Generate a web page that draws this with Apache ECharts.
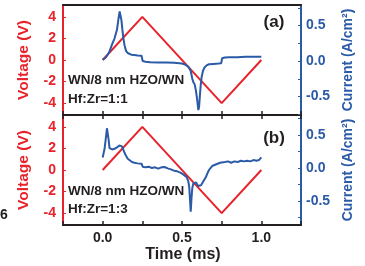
<!DOCTYPE html>
<html>
<head>
<meta charset="utf-8">
<script src="https://cdn.jsdelivr.net/npm/echarts@6/dist/echarts.min.js"></script>
<style>
html,body{margin:0;padding:0;background:#fff}
#chart{width:365px;height:266px}
</style>
</head>
<body>
<div id="chart"></div>
<script>
// triangle voltage sweep (same in both panels)
var voltTime = [0, 0.25, 0.75, 1.0];
var voltValue = [0, 4, -4, 0];

// panel (a) current, Hf:Zr=1:1
var timeA = [0, 0.02, 0.04, 0.06, 0.075, 0.09, 0.1, 0.107, 0.112, 0.118, 0.124, 0.13, 0.138, 0.148, 0.16, 0.18, 0.2, 0.22, 0.245, 0.252, 0.27, 0.3, 0.35, 0.4, 0.45, 0.5, 0.52, 0.54, 0.555, 0.565, 0.572, 0.58, 0.588, 0.596, 0.603, 0.608, 0.613, 0.618, 0.624, 0.632, 0.642, 0.655, 0.67, 0.7, 0.73, 0.747, 0.753, 0.77, 0.8, 0.85, 0.9, 0.95, 1.0];
var currentA = [0.02, 0.05, 0.12, 0.24, 0.32, 0.44, 0.6, 0.7, 0.68, 0.58, 0.45, 0.33, 0.22, 0.14, 0.11, 0.09, 0.085, 0.08, 0.075, 0.0, -0.01, -0.015, -0.02, -0.02, -0.025, -0.035, -0.05, -0.08, -0.14, -0.25, -0.3, -0.33, -0.42, -0.55, -0.69, -0.64, -0.48, -0.34, -0.22, -0.14, -0.09, -0.06, -0.045, -0.04, -0.035, -0.03, 0.04, 0.05, 0.055, 0.055, 0.06, 0.06, 0.06];

// panel (b) current, Hf:Zr=1:3
var timeB = [0, 0.012, 0.02, 0.027, 0.033, 0.038, 0.043, 0.05, 0.06, 0.075, 0.09, 0.105, 0.113, 0.12, 0.128, 0.138, 0.148, 0.158, 0.17, 0.185, 0.2, 0.22, 0.245, 0.252, 0.27, 0.29, 0.31, 0.33, 0.35, 0.37, 0.39, 0.41, 0.43, 0.45, 0.47, 0.49, 0.51, 0.53, 0.54, 0.546, 0.55, 0.555, 0.56, 0.565, 0.572, 0.58, 0.59, 0.6, 0.61, 0.62, 0.63, 0.64, 0.65, 0.66, 0.67, 0.68, 0.69, 0.7, 0.72, 0.74, 0.752, 0.77, 0.79, 0.81, 0.83, 0.85, 0.87, 0.89, 0.91, 0.93, 0.95, 0.97, 0.985, 1.0];
var currentB = [0.16, 0.29, 0.45, 0.6, 0.57, 0.42, 0.3, 0.27, 0.28, 0.29, 0.31, 0.34, 0.35, 0.33, 0.29, 0.23, 0.18, 0.14, 0.11, 0.09, 0.08, 0.07, 0.065, 0.02, 0.01, 0.02, 0.0, 0.01, -0.01, 0.01, 0.015, -0.005, -0.02, -0.04, -0.05, -0.07, -0.1, -0.14, -0.2, -0.3, -0.46, -0.66, -0.45, -0.3, -0.23, -0.21, -0.22, -0.27, -0.24, -0.26, -0.22, -0.19, -0.14, -0.08, -0.03, 0.0, 0.03, 0.045, 0.06, 0.08, 0.1, 0.09, 0.1, 0.08, 0.1, 0.09, 0.11, 0.1, 0.11, 0.1, 0.12, 0.11, 0.12, 0.16];

var timeLabels = [0, 0.5, 1.0];
var voltLabels = [-4, -2, 0, 2, 4];
var currLabels = [-0.5, 0, 0.5];
var currTicks = [-0.75, -0.5, -0.25, 0, 0.25, 0.5, 0.75];

var RED = '#e8232b', BLUE = '#2b5aa7', INK = '#231f20';
var FONT = '"Liberation Sans", Arial, sans-serif';

function pairs(xs, ys) {
  return xs.map(function (x, i) { return [x, ys[i]]; });
}

function xAx(grid, pos, showLabel, ticks) {
  return {
    type: 'value', gridIndex: grid, position: pos,
    min: -0.25, max: 1.25, interval: 0.25,
    axisLine: { show: true, onZero: false, lineStyle: { color: INK, width: 2 } },
    axisTick: { show: ticks, inside: true, length: 4, lineStyle: { color: INK, width: 1.5 } },
    axisLabel: {
      show: showLabel, customValues: timeLabels, margin: 6,
      color: INK, fontSize: 14, fontWeight: 'bold', fontFamily: FONT,
      formatter: function (v) { return v.toFixed(1); }
    },
    splitLine: { show: false }
  };
}

function voltAx(grid) {
  return {
    type: 'value', gridIndex: grid, position: 'left',
    min: -5.1, max: 5.1,
    axisLine: { show: true, onZero: false, lineStyle: { color: RED, width: 2 } },
    axisTick: { show: true, inside: true, length: 3, customValues: voltLabels, lineStyle: { color: RED } },
    axisLabel: {
      customValues: voltLabels, margin: 7,
      color: RED, fontSize: 14, fontWeight: 'bold', fontFamily: FONT
    },
    splitLine: { show: false }
  };
}

function currAx(grid, lo, hi) {
  return {
    type: 'value', gridIndex: grid, position: 'right',
    min: lo, max: hi,
    axisLine: { show: true, onZero: false, lineStyle: { color: BLUE, width: 2 } },
    axisTick: { show: true, inside: true, length: 3, customValues: currTicks, lineStyle: { color: BLUE } },
    axisLabel: {
      customValues: currLabels, margin: 5,
      color: BLUE, fontSize: 14, fontWeight: 'bold', fontFamily: FONT,
      formatter: function (v) { return v.toFixed(1); }
    },
    splitLine: { show: false }
  };
}

function txt(x, y, s, opt) {
  opt = opt || {};
  return {
    type: 'text', x: x, y: y, rotation: opt.rot || 0, z: 100,
    style: {
      text: s, fill: opt.color || INK,
      font: 'bold ' + (opt.size || 14) + 'px ' + FONT,
      textAlign: opt.align || 'left', textVerticalAlign: 'middle'
    }
  };
}

var chart = echarts.init(document.getElementById('chart'), null, { renderer: 'canvas' });

chart.setOption({
  animation: false,
  grid: [
    { left: 63, right: 64, top: 5, height: 110 },
    { left: 63, right: 64, top: 115, height: 110 }
  ],
  xAxis: [
    xAx(0, 'bottom', false, true),
    xAx(0, 'top', false, false),
    xAx(1, 'bottom', true, true),
    xAx(1, 'top', false, true)
  ],
  yAxis: [
    voltAx(0), currAx(0, -0.76, 0.79),
    voltAx(1), currAx(1, -0.86, 0.8)
  ],
  series: [
    { type: 'line', xAxisIndex: 0, yAxisIndex: 0, data: pairs(voltTime, voltValue),
      showSymbol: false, lineStyle: { color: RED, width: 2 } },
    { type: 'line', xAxisIndex: 0, yAxisIndex: 1, data: pairs(timeA, currentA),
      showSymbol: false, lineStyle: { color: BLUE, width: 2 } },
    { type: 'line', xAxisIndex: 2, yAxisIndex: 2, data: pairs(voltTime, voltValue),
      showSymbol: false, lineStyle: { color: RED, width: 2 } },
    { type: 'line', xAxisIndex: 2, yAxisIndex: 3, data: pairs(timeB, currentB),
      showSymbol: false, lineStyle: { color: BLUE, width: 2 } }
  ],
  graphic: [
    txt(24, 60, 'Voltage (V)', { rot: Math.PI / 2, color: RED, size: 15.5, align: 'center' }),
    txt(24, 170, 'Voltage (V)', { rot: Math.PI / 2, color: RED, size: 15.5, align: 'center' }),
    txt(348, 60, 'Current (A/cm²)', { rot: Math.PI / 2, color: BLUE, size: 14, align: 'center' }),
    txt(348, 170, 'Current (A/cm²)', { rot: Math.PI / 2, color: BLUE, size: 14, align: 'center' }),
    txt(183, 255, 'Time (ms)', { size: 16, align: 'center' }),
    txt(274, 22, '(a)', { size: 17, align: 'center' }),
    txt(274, 138, '(b)', { size: 17, align: 'center' }),
    txt(68, 80.5, 'WN/8 nm HZO/WN', { size: 13.5 }),
    txt(68, 99, 'Hf:Zr=1:1', { size: 13.5 }),
    txt(68, 191.5, 'WN/8 nm HZO/WN', { size: 13.5 }),
    txt(68, 209, 'Hf:Zr=1:3', { size: 13.5 }),
    txt(0, 215, '6', { size: 14 })
  ]
});

window.addEventListener('resize', function () {
  chart.resize();
});
</script>
</body>
</html>
